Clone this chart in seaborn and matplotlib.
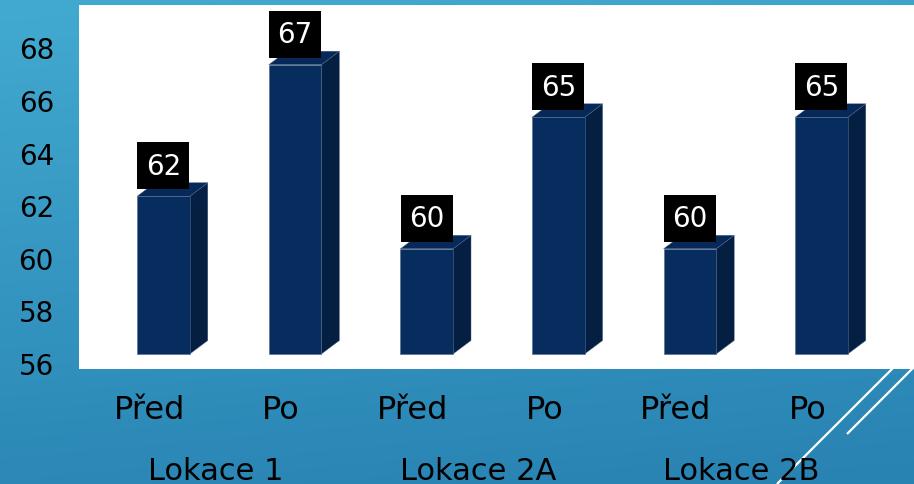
import numpy as np
import pandas as pd
import seaborn as sns
import matplotlib.pyplot as plt
from matplotlib.patches import Polygon, Rectangle
from matplotlib.transforms import Affine2D, ScaledTranslation, blended_transform_factory

# --- data -------------------------------------------------------------
PERIODS = ["Před", "Po", "Před", "Po", "Před", "Po"]
LOCATIONS = ["Lokace 1", "Lokace 2A", "Lokace 2B"]
VALUES = [62, 67, 60, 65, 60, 65]
Y_TICKS = [56, 58, 60, 62, 64, 66, 68]
BASE = 56

# --- style ------------------------------------------------------------
FRONT = "#062d5e"
SIDE = "#041f41"
TOP = "#06295a"
EDGE = "#4d6889"

sns.set_theme(style="white")
plt.rcParams["font.family"] = ["DejaVu Sans"]

W, H = 914, 485
fig = plt.figure(figsize=(W / 100, H / 100), dpi=100)

# slide background: blue gradient with two thin diagonal strokes
bg = fig.add_axes([0, 0, 1, 1], zorder=-10)
yy = np.linspace(0, 1, 240)[:, None]
xx = np.linspace(0, 1, 320)[None, :]
c_top = np.array([66, 170, 208]) / 255
c_bot = np.array([40, 130, 178]) / 255
t = np.clip(0.85 * yy + 0.15 * xx, 0, 1)[..., None]
bg.imshow(c_top * (1 - t) + c_bot * t, extent=(0, W, H, 0), aspect="auto")
bg.plot([777, 905], [485, 357], color="white", lw=1.6, solid_capstyle="butt")
bg.plot([847, 925], [435, 357], color="white", lw=1.6, solid_capstyle="butt")
bg.set_xlim(0, W)
bg.set_ylim(H, 0)
bg.axis("off")

# plot area
ax = fig.add_axes([79 / W, (H - 370) / H, (W - 79) / W, 364 / H])
ax.set_facecolor("white")

df = pd.DataFrame({
    "lokace": np.repeat(LOCATIONS, 2),
    "obdobi": PERIODS,
    "hodnota": VALUES,
})
df["kat"] = df["lokace"] + " · " + df["obdobi"]

sns.barplot(data=df, x="kat", y="hodnota", order=list(df["kat"]),
            color=FRONT, saturation=1, width=0.40, errorbar=None,
            edgecolor=EDGE, linewidth=0.4, ax=ax, zorder=3)

ax.set_xlim(-0.642, 5.703)
ax.set_ylim(55.43, 69.27)
for s in ax.spines.values():
    s.set_visible(False)
ax.set_xticks([])
ax.set_yticks([])
ax.set_xlabel("")
ax.set_ylabel("")

# pixel size of one data unit, for the 3D depth offset
px_x = ax.bbox.width / np.ptp(ax.get_xlim())
px_y = ax.bbox.height / np.ptp(ax.get_ylim())
dx = 18 / px_x
dy = 13.5 / px_y

for p, v in zip(ax.patches, VALUES):
    x0 = p.get_x()
    x1 = x0 + p.get_width()
    top = p.get_y() + p.get_height()
    p.set_y(BASE)
    p.set_height(top - BASE)
    ax.add_patch(Polygon([(x1, BASE), (x1 + dx, BASE + dy), (x1 + dx, top + dy), (x1, top)],
                         closed=True, facecolor=SIDE, edgecolor=EDGE, lw=0.3, zorder=2))
    ax.add_patch(Polygon([(x0, top), (x0 + dx, top + dy), (x1 + dx, top + dy), (x1, top)],
                         closed=True, facecolor=TOP, edgecolor=EDGE, lw=0.3, zorder=2))
    # value label in a black box just above the bar
    xc = x0 + p.get_width() / 2
    tr = Affine2D() + ScaledTranslation(xc, top, ax.transData)
    ax.add_patch(Rectangle((-26, 7), 52, 47, transform=tr, facecolor="black",
                           edgecolor="none", zorder=5, clip_on=False))
    ax.text(0, 30.5, f"{v:g}", transform=tr, ha="center", va="center",
            color="white", fontsize=20, zorder=6, clip_on=False)

# y axis labels
ytr = blended_transform_factory(ax.transAxes, ax.transData) + Affine2D().translate(-25, -12)
for v in Y_TICKS:
    ax.text(0, v, f"{v}", transform=ytr, ha="right", va="center",
            fontsize=20, color="black", clip_on=False)

# category labels and location group labels
xtr = blended_transform_factory(ax.transData, fig.transFigure) + Affine2D().translate(-14, 0)
for i, lab in enumerate(PERIODS):
    ax.text(i, (H - 419) / H, lab, transform=xtr, ha="center", va="baseline",
            fontsize=23, color="black", clip_on=False)
for g, lab in enumerate(LOCATIONS):
    ax.text(2 * g + 0.5, (H - 480) / H, lab, transform=xtr, ha="center", va="baseline",
            fontsize=22, color="black", clip_on=False)

fig.savefig("out.png", dpi=100)
